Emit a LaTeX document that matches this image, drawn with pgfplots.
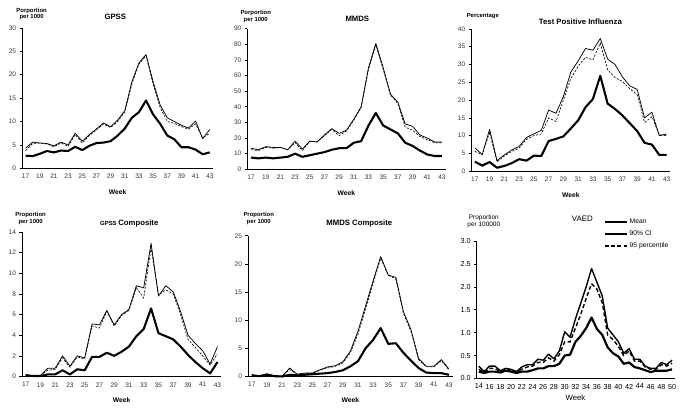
\documentclass[border=0pt]{standalone}
\usepackage{pgfplots}
\pgfplotsset{compat=1.18}
\usepackage{fontspec}
\setmainfont{Liberation Sans}
\begin{document}
\pgfplotsset{
  panel/.style={
    scale only axis, anchor=south west,
    axis x line*=bottom, axis y line*=left,
    axis line style={-, black, line width=0.8pt},
    tick align=outside,
    ticklabel style={font=\fontsize{6.6}{7.5}\selectfont, text=black!80},
    /pgf/number format/assume math mode=true,
    xtick style={draw=none},
    ytick style={black, line width=0.6pt},
    major tick length=2.5pt,
    xlabel={Week}, xlabel style={font=\fontsize{6.8}{8}\selectfont\bfseries, yshift=-4pt},
    title style={font=\fontsize{7.8}{9}\selectfont\bfseries},
    clip=false,
  },
  wk/.style={xmin=16.5, xmax=43.5, xtick={17,19,...,43}},
  meanl/.style={black, line width=2.1pt, line join=round},
  cil/.style={black, line width=0.75pt, line join=round},
  pctl/.style={black, line width=0.65pt, dash pattern=on 2.2pt off 1.5pt},
}
\begin{tikzpicture}[x=1bp,y=1bp]
\path[use as bounding box] (0,0) rectangle (683,410);
% ---------- GPSS ----------
\begin{axis}[panel, wk, at={(19.4bp,241bp)}, width=192bp, height=141bp,
  ymin=0, ymax=30, ytick={0,5,...,30}]
\addplot[pctl] coordinates {(17,3.8)(18,5.3)(19,5.4)(20,5.2)(21,4.6)(22,5.4)(23,4.7)(24,7.2)(25,5.4)(26,7.0)(27,8.2)(28,9.5)(29,8.7)(30,10.0)(31,12.0)(32,18.0)(33,22.3)(34,24.0)(35,18.0)(36,13.0)(37,10.0)(38,9.6)(39,8.9)(40,8.4)(41,9.5)(42,6.5)(43,7.5)};
\addplot[cil] coordinates {(17,4.3)(18,5.6)(19,5.4)(20,5.3)(21,4.8)(22,5.6)(23,5.0)(24,7.5)(25,5.8)(26,7.2)(27,8.4)(28,9.7)(29,8.9)(30,10.3)(31,12.3)(32,18.5)(33,22.5)(34,24.3)(35,18.5)(36,13.5)(37,10.8)(38,10.0)(39,9.2)(40,8.6)(41,10.1)(42,6.3)(43,8.3)};
\addplot[meanl] coordinates {(17,2.7)(18,2.6)(19,3.1)(20,3.7)(21,3.4)(22,3.8)(23,3.7)(24,4.6)(25,3.9)(26,4.8)(27,5.4)(28,5.5)(29,5.8)(30,7.0)(31,8.5)(32,10.8)(33,12.0)(34,14.5)(35,11.5)(36,9.5)(37,7.0)(38,6.2)(39,4.5)(40,4.5)(41,4.0)(42,3.0)(43,3.4)};
\end{axis}
\node[font=\fontsize{7.8}{9}\selectfont\bfseries] at (113,393) {GPSS};
\node[font=\fontsize{6}{7}\selectfont\bfseries, align=center] at (29,396) {Porportion\\per 1000};
% ---------- MMDS ----------
\begin{axis}[panel, wk, at={(245.6bp,240bp)}, width=199bp, height=141.3bp,
  ymin=0, ymax=90, ytick={0,10,...,90}]
\addplot[pctl] coordinates {(17,12.5)(18,12)(19,14)(20,13.5)(21,14)(22,12.5)(23,17)(24,12)(25,18)(26,17.5)(27,21.5)(28,25.5)(29,21.5)(30,24.5)(31,31.5)(32,39.5)(33,64)(34,79.5)(35,64)(36,47.5)(37,42)(38,27)(39,25)(40,21)(41,19)(42,17)(43,17)};
\addplot[cil] coordinates {(17,13.5)(18,12.5)(19,14.5)(20,14)(21,14)(22,12.5)(23,18)(24,13)(25,18)(26,17.5)(27,22)(28,26)(29,23)(30,25)(31,32)(32,40)(33,65)(34,80.5)(35,65)(36,48)(37,43)(38,29)(39,27.5)(40,22)(41,20)(42,17.5)(43,17.5)};
\addplot[meanl] coordinates {(17,7.5)(18,7)(19,7.5)(20,7)(21,7.5)(22,8)(23,10)(24,8)(25,9)(26,10)(27,11)(28,12.5)(29,13.5)(30,13.5)(31,17)(32,18)(33,28)(34,36)(35,28)(36,25.5)(37,23)(38,17)(39,15)(40,12)(41,9.5)(42,8.5)(43,8.5)};
\end{axis}
\node[font=\fontsize{7.8}{9}\selectfont\bfseries] at (356,391) {MMDS};
\node[font=\fontsize{6}{7}\selectfont\bfseries, align=center] at (254,393) {Porportion\\per 1000};
% ---------- Test Positive Influenza ----------
\begin{axis}[panel, wk, at={(470.3bp,238bp)}, width=200bp, height=143bp,
  ymin=0, ymax=40, ytick={0,5,...,40}]
\addplot[pctl] coordinates {(17,5.6)(18,4.7)(19,11.0)(20,2.7)(21,4.3)(22,5.6)(23,6.5)(24,9.0)(25,10.0)(26,10.5)(27,15.0)(28,14.0)(29,20.0)(30,26.0)(31,29.5)(32,32.0)(33,31.3)(34,36.0)(35,28.5)(36,26.3)(37,25.2)(38,23.2)(39,21.5)(40,13.7)(41,15.3)(42,10.3)(43,10.0)};
\addplot[cil] coordinates {(17,6.6)(18,4.7)(19,11.8)(20,3.0)(21,4.6)(22,6.0)(23,7.0)(24,9.5)(25,10.5)(26,11.5)(27,17.2)(28,16.3)(29,21.0)(30,27.8)(31,31.0)(32,34.5)(33,34.0)(34,37.3)(35,31.5)(36,30.0)(37,26.5)(38,24.0)(39,23.0)(40,15.0)(41,16.6)(42,10.0)(43,10.5)};
\addplot[meanl] coordinates {(17,2.7)(18,1.6)(19,2.6)(20,1.0)(21,1.5)(22,2.3)(23,3.4)(24,3.0)(25,4.4)(26,4.3)(27,8.5)(28,9.1)(29,9.8)(30,12.0)(31,14.3)(32,18.0)(33,20.3)(34,26.8)(35,19.0)(36,17.5)(37,15.7)(38,13.5)(39,11.3)(40,8.0)(41,7.5)(42,4.6)(43,4.6)};
\end{axis}
\node[font=\fontsize{7.8}{9}\selectfont\bfseries] at (580,388) {Test Positive Influenza};
\node[font=\fontsize{6}{7}\selectfont\bfseries] at (482,394) {Percentage};
% ---------- GPSS Composite ----------
\begin{axis}[panel, wk, at={(19.3bp,32bp)}, width=200bp, height=145bp,
  ymin=0, ymax=14, ytick={0,2,...,14}]
\addplot[pctl] coordinates {(17,0.15)(18,0.05)(19,0.1)(20,0.6)(21,0.7)(22,1.8)(23,0.9)(24,1.9)(25,1.7)(26,4.9)(27,4.7)(28,6.3)(29,4.9)(30,5.9)(31,6.4)(32,8.6)(33,7.6)(34,12.5)(35,7.9)(36,8.4)(37,8.0)(38,6.0)(39,3.6)(40,2.8)(41,2.0)(42,1.1)(43,2.2)};
\addplot[cil] coordinates {(17,0.2)(18,0.05)(19,0.1)(20,0.8)(21,0.8)(22,2.0)(23,1.0)(24,2.0)(25,1.8)(26,5.1)(27,5.0)(28,6.4)(29,5.0)(30,6.0)(31,6.5)(32,8.8)(33,8.6)(34,12.9)(35,7.8)(36,8.8)(37,8.2)(38,6.3)(39,4.0)(40,3.2)(41,2.5)(42,1.2)(43,2.9)};
\addplot[meanl] coordinates {(17,0.1)(18,0.05)(19,0.05)(20,0.2)(21,0.2)(22,0.6)(23,0.2)(24,0.7)(25,0.6)(26,1.9)(27,1.9)(28,2.3)(29,2.0)(30,2.4)(31,2.9)(32,3.9)(33,4.6)(34,6.6)(35,4.2)(36,3.9)(37,3.6)(38,2.9)(39,2.1)(40,1.4)(41,0.8)(42,0.3)(43,1.4)};
\end{axis}
\node at (127,186) {\fontsize{6}{7}\selectfont\bfseries GPSS \fontsize{7.8}{9}\selectfont Composite};
\node[font=\fontsize{6}{7}\selectfont\bfseries, align=center] at (28,191) {Proportion\\per 1000};
% ---------- MMDS Composite ----------
\begin{axis}[panel, wk, at={(246.2bp,32bp)}, width=205.6bp, height=141.3bp,
  ymin=0, ymax=25, ytick={0,5,...,25}]
\addplot[pctl] coordinates {(17,0.3)(18,0.1)(19,0.4)(20,0.1)(21,0.05)(22,1.2)(23,0.4)(24,0.5)(25,0.6)(26,1.1)(27,1.5)(28,1.8)(29,2.4)(30,4.2)(31,7.5)(32,12.0)(33,16.5)(34,21.0)(35,18.0)(36,17.3)(37,11.2)(38,8.0)(39,3.0)(40,1.7)(41,1.7)(42,2.8)(43,1.2)};
\addplot[cil] coordinates {(17,0.3)(18,0.1)(19,0.5)(20,0.1)(21,0.05)(22,1.5)(23,0.4)(24,0.6)(25,0.6)(26,1.2)(27,1.7)(28,1.9)(29,2.6)(30,4.5)(31,8.0)(32,12.5)(33,17.0)(34,21.3)(35,18.0)(36,17.6)(37,11.5)(38,8.3)(39,3.2)(40,1.8)(41,1.8)(42,3.0)(43,1.3)};
\addplot[meanl] coordinates {(17,0.2)(18,0.05)(19,0.3)(20,0.05)(21,0.0)(22,0.3)(23,0.2)(24,0.3)(25,0.4)(26,0.5)(27,0.6)(28,0.8)(29,1.1)(30,1.8)(31,2.7)(32,5.0)(33,6.5)(34,8.6)(35,5.8)(36,5.9)(37,4.2)(38,2.8)(39,1.5)(40,0.7)(41,0.6)(42,0.6)(43,0.3)};
\end{axis}
\node[font=\fontsize{7.8}{9}\selectfont\bfseries] at (358,186) {MMDS Composite};
\node[font=\fontsize{6}{7}\selectfont\bfseries, align=center] at (257,191) {Proportion\\per 1000};
% ---------- VAED ----------
\begin{axis}[panel, at={(475.3bp,30bp)}, width=199.4bp, height=138bp,
  xmin=13.5, xmax=50.5, xtick={14,16,...,50},
  xtick style={black, line width=0.6pt}, major tick length=2pt,
  ticklabel style={font=\fontsize{7.3}{8}\selectfont, text=black},
  xlabel style={font=\fontsize{7.8}{9}\selectfont, yshift=5pt},
  ymin=0, ymax=3, ytick={0,0.5,...,3},
  yticklabel style={/pgf/number format/.cd, fixed, fixed zerofill, precision=1},
  legend style={at={(0.64,1.175)}, anchor=north west, draw=none, fill=none,
    font=\fontsize{6.8}{7.5}\selectfont, row sep=1.8pt, inner sep=0pt},
  legend cell align=left,
  legend image code/.code={\draw[#1] (0,0) -- (0.78cm,0);}]
\addplot[black, line width=2.2pt, line join=round] coordinates {(14,0.15)(15,0.12)(16,0.15)(17,0.15)(18,0.13)(19,0.17)(20,0.15)(21,0.12)(22,0.15)(23,0.15)(24,0.18)(25,0.22)(26,0.22)(27,0.27)(28,0.27)(29,0.32)(30,0.5)(31,0.52)(32,0.8)(33,0.93)(34,1.1)(35,1.33)(36,1.08)(37,0.95)(38,0.68)(39,0.55)(40,0.48)(41,0.32)(42,0.35)(43,0.25)(44,0.22)(45,0.18)(46,0.14)(47,0.17)(48,0.17)(49,0.17)(50,0.2)};
\addlegendentry{Mean}
\addplot[black, line width=1.4pt, line join=round] coordinates {(14,0.27)(15,0.15)(16,0.27)(17,0.27)(18,0.17)(19,0.22)(20,0.2)(21,0.15)(22,0.25)(23,0.3)(24,0.3)(25,0.42)(26,0.4)(27,0.53)(28,0.43)(29,0.6)(30,1.02)(31,0.9)(32,1.3)(33,1.65)(34,2.0)(35,2.4)(36,2.1)(37,1.8)(38,1.1)(39,0.95)(40,0.8)(41,0.55)(42,0.65)(43,0.42)(44,0.42)(45,0.27)(46,0.22)(47,0.22)(48,0.35)(49,0.3)(50,0.4)};
\addlegendentry{90\% CI}
\addplot[black, line width=1.4pt, dash pattern=on 4pt off 2.5pt] coordinates {(14,0.2)(15,0.13)(16,0.22)(17,0.22)(18,0.15)(19,0.2)(20,0.18)(21,0.13)(22,0.2)(23,0.25)(24,0.27)(25,0.35)(26,0.35)(27,0.45)(28,0.38)(29,0.52)(30,0.8)(31,0.8)(32,1.1)(33,1.4)(34,1.75)(35,2.07)(36,1.95)(37,1.65)(38,0.95)(39,0.85)(40,0.7)(41,0.5)(42,0.6)(43,0.38)(44,0.38)(45,0.25)(46,0.2)(47,0.2)(48,0.3)(49,0.27)(50,0.33)};
\addlegendentry{95 percentile}
\end{axis}
\node[font=\fontsize{8}{9}\selectfont] at (582,190) {VAED};
\node[font=\fontsize{6.5}{7.5}\selectfont, align=center] at (483,188) {Proportion\\per 100000};
\end{tikzpicture}
\end{document}
